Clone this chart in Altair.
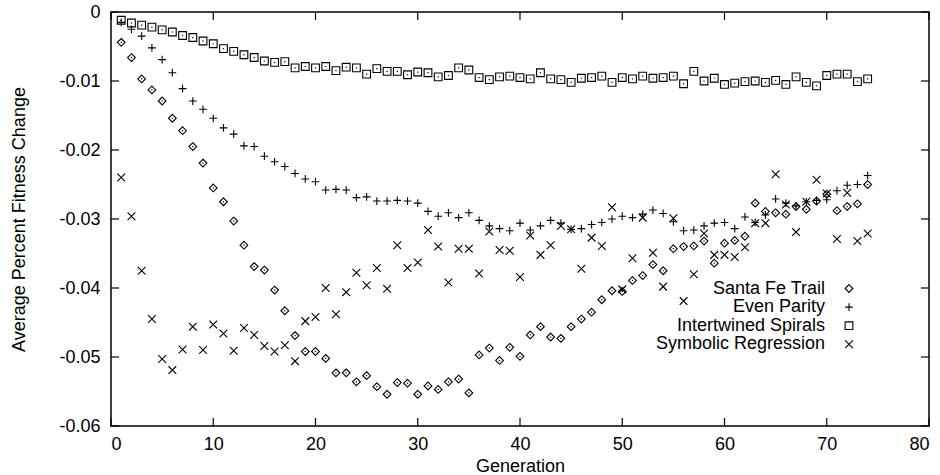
import altair as alt
import pandas as pd

generations = list(range(1, 75))

santa_fe = [
    -0.0044, -0.0066, -0.0097, -0.0113, -0.0129, -0.0154, -0.0172, -0.0195, -0.0219, -0.0255,
    -0.0275, -0.0303, -0.0338, -0.0369, -0.0374, -0.0403, -0.0433, -0.0469, -0.0492, -0.0492,
    -0.0502, -0.0523, -0.0523, -0.0536, -0.0527, -0.0543, -0.0554, -0.0537, -0.0538, -0.0554,
    -0.0542, -0.0547, -0.0536, -0.0532, -0.0552, -0.0497, -0.0487, -0.0505, -0.0486, -0.0499,
    -0.0468, -0.0456, -0.0471, -0.0473, -0.0456, -0.0445, -0.0435, -0.0417, -0.0404, -0.0405,
    -0.0389, -0.0382, -0.0366, -0.0375, -0.0343, -0.0340, -0.0339, -0.0332, -0.0364, -0.0335,
    -0.0331, -0.0325, -0.0277, -0.0289, -0.0291, -0.0293, -0.0282, -0.0286, -0.0274, -0.0264,
    -0.0288, -0.0282, -0.0278, -0.0250,
]

even_parity = [
    -0.0015, -0.0025, -0.0035, -0.0052, -0.0069, -0.0088, -0.0111, -0.0129, -0.0141, -0.0154,
    -0.0168, -0.0177, -0.0194, -0.0195, -0.0209, -0.0217, -0.0224, -0.0234, -0.0242, -0.0246,
    -0.0258, -0.0257, -0.0258, -0.0269, -0.0268, -0.0274, -0.0274, -0.0273, -0.0274, -0.0277,
    -0.0289, -0.0296, -0.0291, -0.0298, -0.0291, -0.0302, -0.0310, -0.0314, -0.0317, -0.0306,
    -0.0316, -0.0310, -0.0302, -0.0306, -0.0315, -0.0314, -0.0308, -0.0305, -0.0300, -0.0296,
    -0.0298, -0.0293, -0.0287, -0.0292, -0.0304, -0.0317, -0.0316, -0.0310, -0.0306, -0.0305,
    -0.0314, -0.0297, -0.0305, -0.0294, -0.0271, -0.0277, -0.0281, -0.0275, -0.0273, -0.0272,
    -0.0259, -0.0251, -0.0250, -0.0237,
]

intertwined_spirals = [
    -0.0012, -0.0016, -0.0019, -0.0022, -0.0026, -0.0029, -0.0034, -0.0037, -0.0042, -0.0046,
    -0.0053, -0.0057, -0.0062, -0.0066, -0.0071, -0.0073, -0.0072, -0.0081, -0.0079, -0.0081,
    -0.0079, -0.0085, -0.0080, -0.0081, -0.0090, -0.0082, -0.0086, -0.0086, -0.0091, -0.0087,
    -0.0088, -0.0094, -0.0092, -0.0081, -0.0084, -0.0095, -0.0098, -0.0094, -0.0093, -0.0095,
    -0.0097, -0.0088, -0.0097, -0.0098, -0.0102, -0.0096, -0.0095, -0.0093, -0.0102, -0.0095,
    -0.0097, -0.0093, -0.0096, -0.0095, -0.0093, -0.0104, -0.0086, -0.0100, -0.0096, -0.0105,
    -0.0103, -0.0101, -0.0100, -0.0102, -0.0099, -0.0105, -0.0094, -0.0102, -0.0107, -0.0092,
    -0.0090, -0.0090, -0.0101, -0.0097,
]

symbolic_regression = [
    -0.0240, -0.0296, -0.0375, -0.0445, -0.0503, -0.0519, -0.0489, -0.0456, -0.0490, -0.0453,
    -0.0466, -0.0491, -0.0458, -0.0468, -0.0484, -0.0492, -0.0483, -0.0506, -0.0448, -0.0442,
    -0.0400, -0.0438, -0.0406, -0.0378, -0.0396, -0.0371, -0.0401, -0.0338, -0.0371, -0.0363,
    -0.0316, -0.0340, -0.0392, -0.0343, -0.0343, -0.0379, -0.0318, -0.0345, -0.0346, -0.0384,
    -0.0324, -0.0352, -0.0338, -0.0310, -0.0315, -0.0372, -0.0327, -0.0339, -0.0283, -0.0402,
    -0.0357, -0.0298, -0.0349, -0.0398, -0.0299, -0.0419, -0.0380, -0.0321, -0.0352, -0.0352,
    -0.0355, -0.0341, -0.0306, -0.0306, -0.0235, -0.0279, -0.0319, -0.0275, -0.0243, -0.0263,
    -0.0329, -0.0262, -0.0332, -0.0321,
]

series_names = ["Santa Fe Trail", "Even Parity", "Intertwined Spirals", "Symbolic Regression"]
x_ticks = [0, 10, 20, 30, 40, 50, 60, 70, 80]
y_ticks = [0, -0.01, -0.02, -0.03, -0.04, -0.05, -0.06]

shape_paths = [
    "M0,-1L1,0L0,1L-1,0Z",
    "M-1,0L1,0M0,-1L0,1",
    "M-1,-1L1,-1L1,1L-1,1Z",
    "M-1,-1L1,1M-1,1L1,-1",
]

FONT = "Liberation Sans"
W, H = 818, 414
TICK = 8

df = pd.DataFrame({
    "Generation": generations * 4,
    "value": santa_fe + even_parity + intertwined_spirals + symbolic_regression,
    "series": sum([[n] * len(generations) for n in series_names], []),
})

xs = alt.Scale(domain=[0, 80], nice=False, zero=False)
ys = alt.Scale(domain=[-0.06, 0], nice=False, zero=False)
shape_scale = alt.Scale(domain=series_names, range=shape_paths)

x_axis = alt.Axis(
    values=x_ticks, ticks=False, tickSize=0, domain=False, grid=False,
    labelPadding=9, labelFontSize=18, labelFont=FONT, labelColor="black",
    title="Generation", titleFont=FONT, titleFontSize=18, titleFontWeight="normal",
    titleColor="black", titleY=40, titleBaseline="middle",
)
y_axis = alt.Axis(
    values=y_ticks, ticks=False, tickSize=0, domain=False, grid=False,
    labelPadding=11, labelFontSize=18, labelFont=FONT, labelColor="black",
    labelExpr="datum.value == 0 ? '0' : '-' + format(-datum.value, '.2f')",
    title="Average Percent Fitness Change", titleFont=FONT, titleFontSize=18,
    titleFontWeight="normal", titleColor="black", titleAngle=-90,
    titleX=-92, titleY=H / 2, titleBaseline="middle", titleAlign="center",
)

points = alt.Chart(df).mark_point(
    filled=False, size=60, strokeWidth=1.1, color="black", opacity=1
).encode(
    shape=alt.Shape("series:N", scale=shape_scale, legend=None),
)

dots = alt.Chart(df).transform_filter(
    alt.FieldOneOfPredicate(field="series", oneOf=["Santa Fe Trail", "Intertwined Spirals"])
).mark_point(shape="square", filled=True, size=1.5, color="black", opacity=1)

xt = pd.DataFrame({"Generation": x_ticks})
yt = pd.DataFrame({"value": y_ticks})
rule_style = dict(color="black", strokeWidth=1.2)
bottom_ticks = alt.Chart(xt).mark_rule(**rule_style).encode(
    y=alt.value(H), y2=alt.value(H - TICK))
top_ticks = alt.Chart(xt).mark_rule(**rule_style).encode(
    y=alt.value(0), y2=alt.value(TICK))
left_ticks = alt.Chart(yt).mark_rule(**rule_style).encode(
    x=alt.value(0), x2=alt.value(TICK))
right_ticks = alt.Chart(yt).mark_rule(**rule_style).encode(
    x=alt.value(W), x2=alt.value(W - TICK))

legend_layers = []
for i, name in enumerate(series_names):
    ld = pd.DataFrame({"series": [name]})
    ypos = 276.5 + 18.6 * i
    legend_layers.append(
        alt.Chart(ld).mark_text(
            align="right", baseline="middle", font=FONT, fontSize=18, color="black"
        ).encode(text="series:N", x=alt.value(714), y=alt.value(ypos))
    )
    legend_layers.append(
        alt.Chart(ld).mark_point(
            filled=False, size=60, strokeWidth=1.1, color="black", opacity=1
        ).encode(
            shape=alt.Shape("series:N", scale=shape_scale, legend=None),
            x=alt.value(738), y=alt.value(ypos),
        )
    )

chart = alt.layer(
    points, dots, bottom_ticks, top_ticks, left_ticks, right_ticks, *legend_layers
).encode(
    x=alt.X("Generation:Q", scale=xs, axis=x_axis),
    y=alt.Y("value:Q", scale=ys, axis=y_axis),
).properties(
    width=W, height=H,
    autosize=alt.AutoSizeParams(type="none"),
    padding={"left": 111, "top": 12, "right": 11, "bottom": 49},
    background="white",
).configure_view(stroke="black", strokeWidth=1.5)

chart.save("out.html", embed_options={"renderer": "svg", "actions": False})
